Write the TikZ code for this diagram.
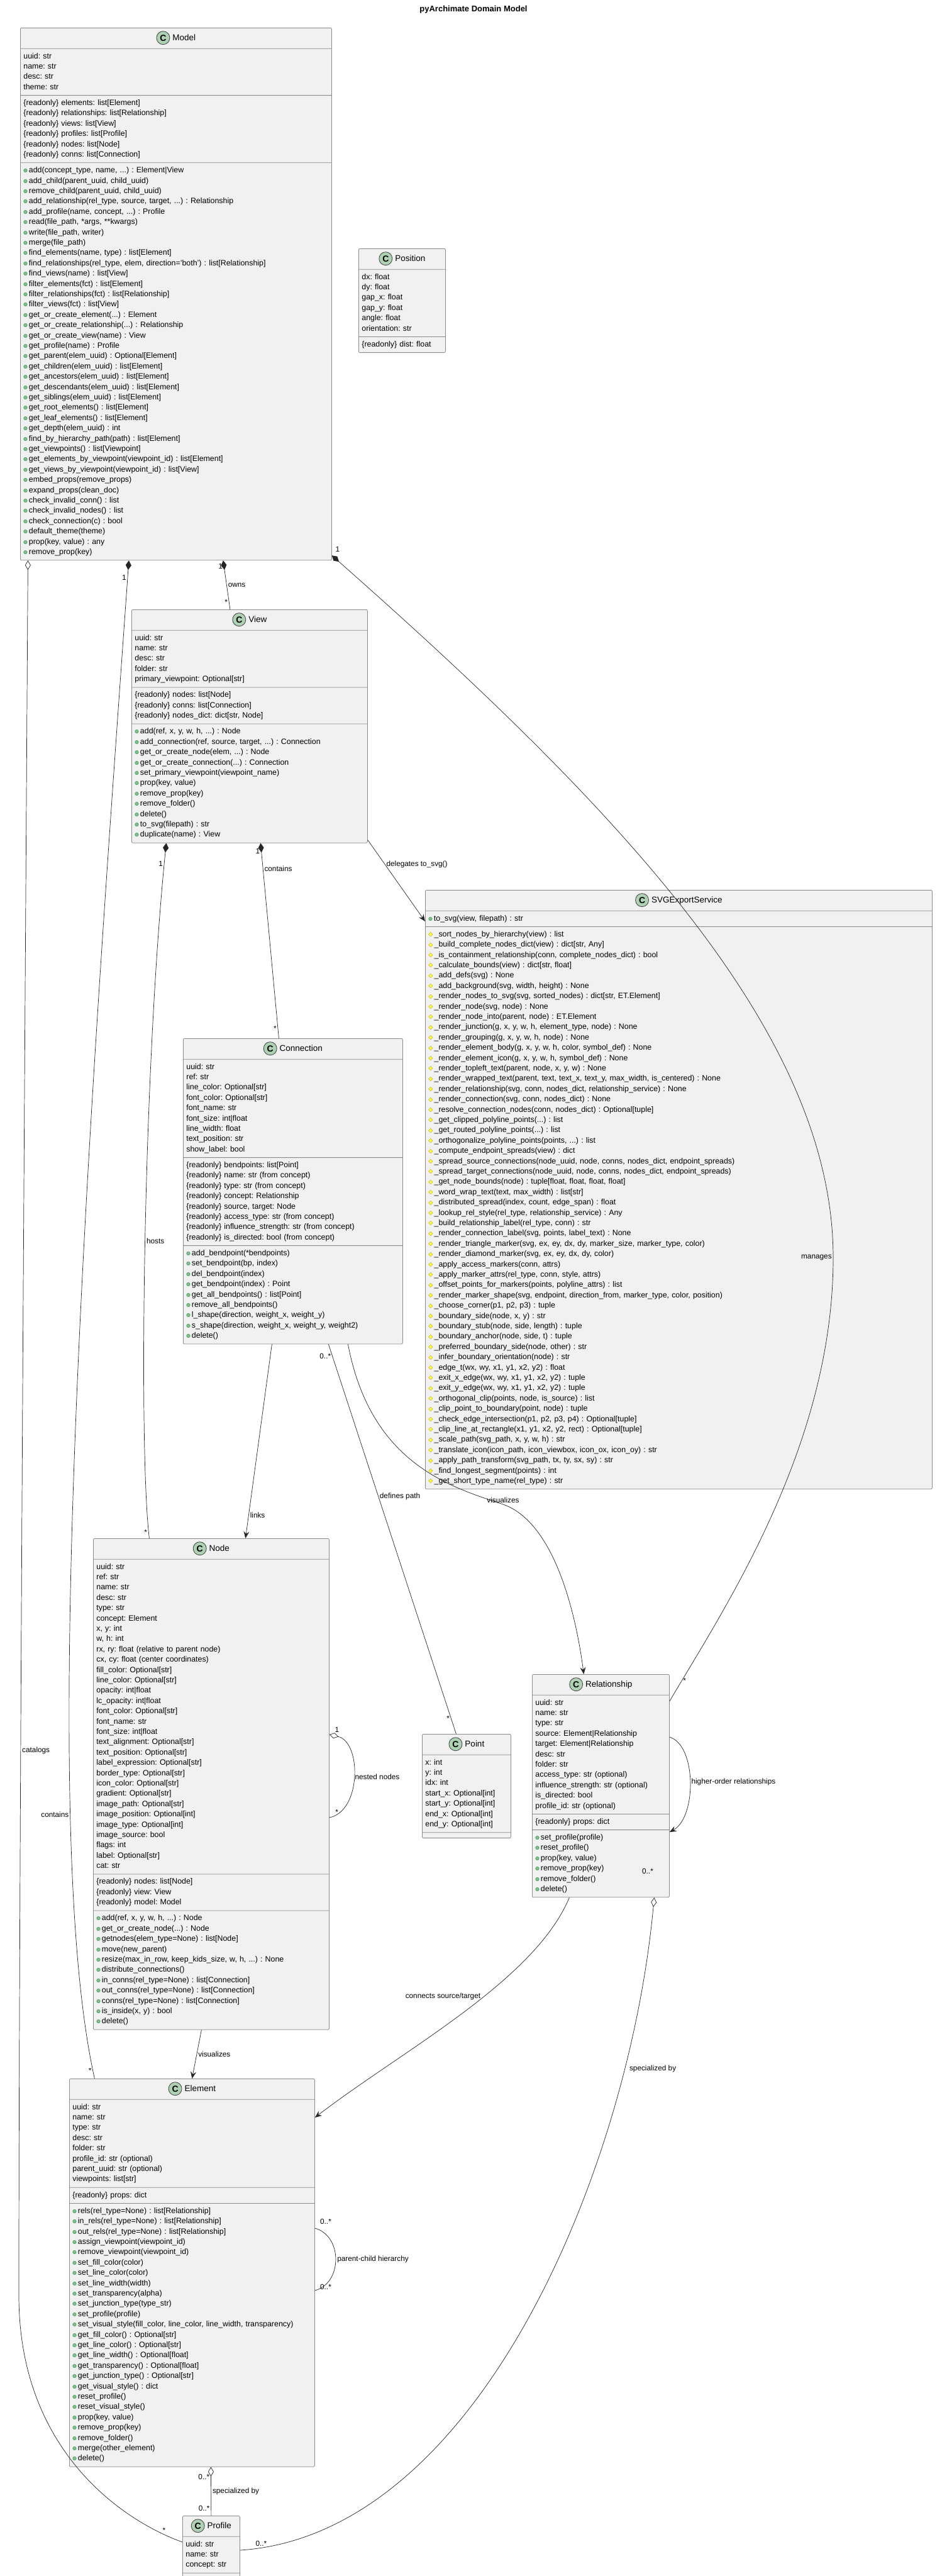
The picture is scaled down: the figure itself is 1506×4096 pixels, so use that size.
\documentclass[tikz,border=0pt]{standalone}
\usepackage{fontspec}
\usepackage{graphicx}
\setmainfont{Liberation Sans}
\newfontfamily\symf{DejaVu Sans}
\usetikzlibrary{shapes.multipart,arrows.meta}
\definecolor{clsbg}{HTML}{F1F1F1}
\definecolor{clsbd}{HTML}{8A8A8A}
\definecolor{cgreen}{HTML}{ADD1B2}
\definecolor{pubf}{HTML}{84BE84}
\definecolor{pubd}{HTML}{038048}
\definecolor{prvf}{HTML}{FFFF44}
\definecolor{prvd}{HTML}{B38D22}
\frenchspacing
\newcommand\clsfont{\fontsize{12.4}{16.4}\selectfont\parindent0pt\frenchspacing}
\providecommand\R{}\renewcommand\R[1]{\strut#1\par}
\newcommand\pubm{\raisebox{0.15ex}{\scalebox{0.6}{\symf\rlap{\color{pubf}●}\color{pubd}○}}\,}
\newcommand\prvm{\raisebox{0.1ex}{\scalebox{0.75}{\symf\rlap{\color{prvf}◆}\color{prvd}◇}}\,}
\renewcommand\P[1]{\R{\pubm #1}}
\providecommand\Q{}\renewcommand\Q[1]{\R{\prvm #1}}
\newcommand\cicon{\tikz[reset cm,baseline=-4.6pt]{\node[circle,anchor=center,align=center,draw=black!75,fill=cgreen,line width=0.8pt,minimum size=21pt,inner sep=0pt,font=\fontsize{14}{14}\selectfont\bfseries] at (0,0) {C};}}
\newcommand\chead[1]{\makebox[\linewidth]{\rule[-8pt]{0pt}{24pt}\cicon\ \fontsize{13.5}{16}\selectfont #1}}
\tikzset{
  cls/.style={rectangle split, rectangle split parts=#1, rectangle split ignore empty parts=false,
    draw=clsbd, fill=clsbg, rounded corners=2pt, inner xsep=5pt, inner ysep=4pt,
    anchor=north west, align=left, font=\clsfont, line width=0.8pt},
  lnk/.style={draw=black!85, line width=0.7pt},
  arr/.style={lnk,-{Stealth[length=11pt,width=9pt,inset=4pt]}},
  fdia/.style={lnk,{Diamond[length=15pt,width=9pt]}-},
  odia/.style={lnk,{Diamond[open,fill=white,length=15pt,width=9pt]}-},
  lab/.style={font=\fontsize{11.8}{14}\selectfont, inner sep=2pt},
}
\begin{document}
\catcode`\_=12
\begin{tikzpicture}[x=1pt,y=-1pt]
\useasboundingbox (0,0) rectangle (1506,4096);
\fill[white] (0,0) rectangle (1506,4096);
\node[font=\fontsize{13}{15}\selectfont\bfseries] (title) at (753,15) {pyArchimate Domain Model};

% Model
\node[cls=4, text width=485pt] (model) at (32,44) {\chead{Model}
\nodepart{two}\R{uuid: str}\R{name: str}\R{desc: str}\R{theme: str}
\nodepart{three}\R{\{readonly\} elements: list[Element]}\R{\{readonly\} relationships: list[Relationship]}\R{\{readonly\} views: list[View]}\R{\{readonly\} profiles: list[Profile]}\R{\{readonly\} nodes: list[Node]}\R{\{readonly\} conns: list[Connection]}
\nodepart{four}\P{add(concept_type, name, ...) : Element|View}\P{add_child(parent_uuid, child_uuid)}\P{remove_child(parent_uuid, child_uuid)}\P{add_relationship(rel_type, source, target, ...) : Relationship}\P{add_profile(name, concept, ...) : Profile}\P{read(file_path, *args, **kwargs)}\P{write(file_path, writer)}\P{merge(file_path)}\P{find_elements(name, type) : list[Element]}\P{find_relationships(rel_type, elem, direction='both') : list[Relationship]}\P{find_views(name) : list[View]}\P{filter_elements(fct) : list[Element]}\P{filter_relationships(fct) : list[Relationship]}\P{filter_views(fct) : list[View]}\P{get_or_create_element(...) : Element}\P{get_or_create_relationship(...) : Relationship}\P{get_or_create_view(name) : View}\P{get_profile(name) : Profile}\P{get_parent(elem_uuid) : Optional[Element]}\P{get_children(elem_uuid) : list[Element]}\P{get_ancestors(elem_uuid) : list[Element]}\P{get_descendants(elem_uuid) : list[Element]}\P{get_siblings(elem_uuid) : list[Element]}\P{get_root_elements() : list[Element]}\P{get_leaf_elements() : list[Element]}\P{get_depth(elem_uuid) : int}\P{find_by_hierarchy_path(path) : list[Element]}\P{get_viewpoints() : list[Viewpoint]}\P{get_elements_by_viewpoint(viewpoint_id) : list[Element]}\P{get_views_by_viewpoint(viewpoint_id) : list[View]}\P{embed_props(remove_props)}\P{expand_props(clean_doc)}\P{check_invalid_conn() : list}\P{check_invalid_nodes() : list}\P{check_connection(c) : bool}\P{default_theme(theme)}\P{prop(key, value) : any}\P{remove_prop(key)}};

% Position
\node[cls=3, text width=128pt] (position) at (570,395) {\chead{Position}
\nodepart{two}\R{dx: float}\R{dy: float}\R{gap_x: float}\R{gap_y: float}\R{angle: float}\R{orientation: str}
\nodepart{three}\R{\{readonly\} dist: float}};

% View
\node[cls=4, text width=365pt] (view) at (209,969) {\chead{View}
\nodepart{two}\R{uuid: str}\R{name: str}\R{desc: str}\R{folder: str}\R{primary_viewpoint: Optional[str]}
\nodepart{three}\R{\{readonly\} nodes: list[Node]}\R{\{readonly\} conns: list[Connection]}\R{\{readonly\} nodes_dict: dict[str, Node]}
\nodepart{four}\P{add(ref, x, y, w, h, ...) : Node}\P{add_connection(ref, source, target, ...) : Connection}\P{get_or_create_node(elem, ...) : Node}\P{get_or_create_connection(...) : Connection}\P{set_primary_viewpoint(viewpoint_name)}\P{prop(key, value)}\P{remove_prop(key)}\P{remove_folder()}\P{delete()}\P{to_svg(filepath) : str}\P{duplicate(name) : View}};

% SVGExportService
\node[cls=3, text width=796pt] (svg) at (676,1415) {\chead{SVGExportService}
\nodepart{two}\P{to_svg(view, filepath) : str}
\nodepart{three}\Q{_sort_nodes_by_hierarchy(view) : list}\Q{_build_complete_nodes_dict(view) : dict[str, Any]}\Q{_is_containment_relationship(conn, complete_nodes_dict) : bool}\Q{_calculate_bounds(view) : dict[str, float]}\Q{_add_defs(svg) : None}\Q{_add_background(svg, width, height) : None}\Q{_render_nodes_to_svg(svg, sorted_nodes) : dict[str, ET.Element]}\Q{_render_node(svg, node) : None}\Q{_render_node_into(parent, node) : ET.Element}\Q{_render_junction(g, x, y, w, h, element_type, node) : None}\Q{_render_grouping(g, x, y, w, h, node) : None}\Q{_render_element_body(g, x, y, w, h, color, symbol_def) : None}\Q{_render_element_icon(g, x, y, w, h, symbol_def) : None}\Q{_render_topleft_text(parent, node, x, y, w) : None}\Q{_render_wrapped_text(parent, text, text_x, text_y, max_width, is_centered) : None}\Q{_render_relationship(svg, conn, nodes_dict, relationship_service) : None}\Q{_render_connection(svg, conn, nodes_dict) : None}\Q{_resolve_connection_nodes(conn, nodes_dict) : Optional[tuple]}\Q{_get_clipped_polyline_points(...) : list}\Q{_get_routed_polyline_points(...) : list}\Q{_orthogonalize_polyline_points(points, ...) : list}\Q{_compute_endpoint_spreads(view) : dict}\Q{_spread_source_connections(node_uuid, node, conns, nodes_dict, endpoint_spreads)}\Q{_spread_target_connections(node_uuid, node, conns, nodes_dict, endpoint_spreads)}\Q{_get_node_bounds(node) : tuple[float, float, float, float]}\Q{_word_wrap_text(text, max_width) : list[str]}\Q{_distributed_spread(index, count, edge_span) : float}\Q{_lookup_rel_style(rel_type, relationship_service) : Any}\Q{_build_relationship_label(rel_type, conn) : str}\Q{_render_connection_label(svg, points, label_text) : None}\Q{_render_triangle_marker(svg, ex, ey, dx, dy, marker_size, marker_type, color)}\Q{_render_diamond_marker(svg, ex, ey, dx, dy, color)}\Q{_apply_access_markers(conn, attrs)}\Q{_apply_marker_attrs(rel_type, conn, style, attrs)}\Q{_offset_points_for_markers(points, polyline_attrs) : list}\Q{_render_marker_shape(svg, endpoint, direction_from, marker_type, color, position)}\Q{_choose_corner(p1, p2, p3) : tuple}\Q{_boundary_side(node, x, y) : str}\Q{_boundary_stub(node, side, length) : tuple}\Q{_boundary_anchor(node, side, t) : tuple}\Q{_preferred_boundary_side(node, other) : str}\Q{_infer_boundary_orientation(node) : str}\Q{_edge_t(wx, wy, x1, y1, x2, y2) : float}\Q{_exit_x_edge(wx, wy, x1, y1, x2, y2) : tuple}\Q{_exit_y_edge(wx, wy, x1, y1, x2, y2) : tuple}\Q{_orthogonal_clip(points, node, is_source) : list}\Q{_clip_point_to_boundary(point, node) : tuple}\Q{_check_edge_intersection(p1, p2, p3, p4) : Optional[tuple]}\Q{_clip_line_at_rectangle(x1, y1, x2, y2, rect) : Optional[tuple]}\Q{_scale_path(svg_path, x, y, w, h) : str}\Q{_translate_icon(icon_path, icon_viewbox, icon_ox, icon_oy) : str}\Q{_apply_path_transform(svg_path, tx, ty, sx, sy) : str}\Q{_find_longest_segment(points) : int}\Q{_get_short_type_name(rel_type) : str}};

% Connection
\node[cls=4, text width=339pt] (connection) at (291,1651) {\chead{Connection}
\nodepart{two}\R{uuid: str}\R{ref: str}\R{line_color: Optional[str]}\R{font_color: Optional[str]}\R{font_name: str}\R{font_size: int|float}\R{line_width: float}\R{text_position: str}\R{show_label: bool}
\nodepart{three}\R{\{readonly\} bendpoints: list[Point]}\R{\{readonly\} name: str (from concept)}\R{\{readonly\} type: str (from concept)}\R{\{readonly\} concept: Relationship}\R{\{readonly\} source, target: Node}\R{\{readonly\} access_type: str (from concept)}\R{\{readonly\} influence_strength: str (from concept)}\R{\{readonly\} is_directed: bool (from concept)}
\nodepart{four}\P{add_bendpoint(*bendpoints)}\P{set_bendpoint(bp, index)}\P{del_bendpoint(index)}\P{get_bendpoint(index) : Point}\P{get_all_bendpoints() : list[Point]}\P{remove_all_bendpoints()}\P{l_shape(direction, weight_x, weight_y)}\P{s_shape(direction, weight_x, weight_y, weight2)}\P{delete()}};

% Node
\node[cls=4, text width=365pt] (node) at (148,2446) {\chead{Node}
\nodepart{two}\R{uuid: str}\R{ref: str}\R{name: str}\R{desc: str}\R{type: str}\R{concept: Element}\R{x, y: int}\R{w, h: int}\R{rx, ry: float (relative to parent node)}\R{cx, cy: float (center coordinates)}\R{fill_color: Optional[str]}\R{line_color: Optional[str]}\R{opacity: int|float}\R{lc_opacity: int|float}\R{font_color: Optional[str]}\R{font_name: str}\R{font_size: int|float}\R{text_alignment: Optional[str]}\R{text_position: Optional[str]}\R{label_expression: Optional[str]}\R{border_type: Optional[str]}\R{icon_color: Optional[str]}\R{gradient: Optional[str]}\R{image_path: Optional[str]}\R{image_position: Optional[int]}\R{image_type: Optional[int]}\R{image_source: bool}\R{flags: int}\R{label: Optional[str]}\R{cat: str}
\nodepart{three}\R{\{readonly\} nodes: list[Node]}\R{\{readonly\} view: View}\R{\{readonly\} model: Model}
\nodepart{four}\P{add(ref, x, y, w, h, ...) : Node}\P{get_or_create_node(...) : Node}\P{getnodes(elem_type=None) : list[Node]}\P{move(new_parent)}\P{resize(max_in_row, keep_kids_size, w, h, ...) : None}\P{distribute_connections()}\P{in_conns(rel_type=None) : list[Connection]}\P{out_conns(rel_type=None) : list[Connection]}\P{conns(rel_type=None) : list[Connection]}\P{is_inside(x, y) : bool}\P{delete()}};

% Point
\node[cls=3, text width=131pt] (point) at (671,2757) {\chead{Point}
\nodepart{two}\R{x: int}\R{y: int}\R{idx: int}\R{start_x: Optional[int]}\R{start_y: Optional[int]}\R{end_x: Optional[int]}\R{end_y: Optional[int]}
\nodepart{three}\mbox{}};

% Relationship
\node[cls=4, text width=208pt] (relationship) at (846,2662) {\chead{Relationship}
\nodepart{two}\R{uuid: str}\R{name: str}\R{type: str}\R{source: Element|Relationship}\R{target: Element|Relationship}\R{desc: str}\R{folder: str}\R{access_type: str (optional)}\R{influence_strength: str (optional)}\R{is_directed: bool}\R{profile_id: str (optional)}
\nodepart{three}\R{\{readonly\} props: dict}
\nodepart{four}\P{set_profile(profile)}\P{reset_profile()}\P{prop(key, value)}\P{remove_prop(key)}\P{remove_folder()}\P{delete()}};

% Element
\node[cls=4, text width=380pt] (element) at (110,3305) {\chead{Element}
\nodepart{two}\R{uuid: str}\R{name: str}\R{type: str}\R{desc: str}\R{folder: str}\R{profile_id: str (optional)}\R{parent_uuid: str (optional)}\R{viewpoints: list[str]}
\nodepart{three}\R{\{readonly\} props: dict}
\nodepart{four}\P{rels(rel_type=None) : list[Relationship]}\P{in_rels(rel_type=None) : list[Relationship]}\P{out_rels(rel_type=None) : list[Relationship]}\P{assign_viewpoint(viewpoint_id)}\P{remove_viewpoint(viewpoint_id)}\P{set_fill_color(color)}\P{set_line_color(color)}\P{set_line_width(width)}\P{set_transparency(alpha)}\P{set_junction_type(type_str)}\P{set_profile(profile)}\P{set_visual_style(fill_color, line_color, line_width, transparency)}\P{get_fill_color() : Optional[str]}\P{get_line_color() : Optional[str]}\P{get_line_width() : Optional[float]}\P{get_transparency() : Optional[float]}\P{get_junction_type() : Optional[str]}\P{get_visual_style() : dict}\P{reset_profile()}\P{reset_visual_style()}\P{prop(key, value)}\P{remove_prop(key)}\P{remove_folder()}\P{merge(other_element)}\P{delete()}};

% Profile
\node[cls=3, text width=81pt] (profile) at (290,4000) {\chead{Profile}
\nodepart{two}\R{uuid: str}\R{name: str}\R{concept: str}
\nodepart{three}\R{\{readonly\} props: dict}};

% ---- connectors
\path[fdia] ([xshift=75pt]model.south) -- node[lab,pos=.5,right]{owns} node[lab,pos=.12,left]{1} node[lab,pos=.85,left]{*} ([xshift=-31pt]view.north);
\path[fdia] ([yshift=8pt]model.south east) .. controls (1000,1300) and (1325,1650) .. (1325,2000) node[lab,left]{manages} .. controls (1325,2300) and (1150,2560) .. ([yshift=-43pt]relationship.north east) node[lab,pos=.93,right]{*};
\node[lab] (m1) at (537,873) {1};
\path[fdia] ([xshift=-75pt]model.south) .. controls (140,1800) and (60,2900) .. node[lab,pos=.75,left]{contains} node[lab,pos=.01,left]{1} node[lab,pos=.99,left]{*} ([xshift=-155pt]element.north);
\path[odia] ([xshift=-235.5pt]model.south) .. controls (40,1600) and (30,3000) .. (30,3650) node[lab,pos=.66,right]{catalogs} .. controls (30,3900) and (200,4010) .. ([yshift=-42pt]profile.north west) node[lab,pos=.9,above]{*};
\path[fdia] ([xshift=-132.5pt]view.south) .. controls (228,1700) and (220,2300) .. node[lab,pos=.5,right]{hosts} node[lab,pos=.03,left]{1} node[lab,pos=.98,left]{*} ([xshift=-98.5pt]node.north);
\path[fdia] ([xshift=17.5pt]view.south) -- node[lab,pos=.13,right]{contains} node[lab,pos=.04,left]{1} node[lab,pos=.95,left]{*} ([xshift=-22.5pt]connection.north);
\path[arr] ([yshift=5pt]view.south east) -- node[lab,pos=.3,right]{delegates to_svg()} ([yshift=-50pt]svg.north west);
\path[arr] ([xshift=-33.5pt]connection.south) -- node[lab,pos=.88,right]{links} ([xshift=54.5pt]node.north);
\path[lnk] ([xshift=56.5pt]connection.south) -- node[lab,pos=.39,right]{defines path} node[lab,pos=.03,left]{0..*} node[lab,pos=.96,left]{*} ([xshift=-16.5pt]point.north);
\path[arr] ([xshift=87.5pt]connection.south) .. controls (590,2330) and (720,2365) .. (800,2392) node[lab,above]{visualizes} .. controls (880,2420) and (915,2560) .. ([xshift=-27pt]relationship.north);
\path[odia] ([yshift=-312pt]node.north east) .. controls (575,2770) and (575,2880) .. node[lab,right]{nested nodes} ([yshift=-444pt]node.north east) node[lab,pos=.95,above right]{*};
\node[lab] (n1) at (536,2750) {1};
\path[arr] ([xshift=-15.5pt]node.south) -- node[lab,right]{visualizes} (element.north);
\path[arr] ([xshift=-50pt]relationship.south) .. controls (850,3150) and (640,3260) .. node[lab,pos=.42,left,xshift=-4pt]{connects source/target} ([yshift=-62pt]element.north east);
\path[arr] ([yshift=-100pt]relationship.north east) .. controls (1108,2775) and (1108,2890) .. node[lab,right]{higher-order relationships} ([yshift=-251pt]relationship.north east);
\path[lnk] ([yshift=-238pt]element.north east) .. controls (545,3555) and (545,3630) .. node[lab,right]{parent-child hierarchy} ([yshift=-337pt]element.north east);
\node[lab] (e1) at (518,3532) {0..*};
\node[lab] (e2) at (518,3636) {0..*};
\path[odia] ([xshift=30pt]element.south) -- node[lab,right]{specialized by} node[lab,pos=.2,left]{0..*} node[lab,pos=.85,left]{0..*} (profile.north);
\path[odia] ([xshift=85pt]relationship.south) .. controls (1000,3450) and (760,4030) .. node[lab,pos=.2,right,xshift=6pt]{specialized by} ([yshift=-55pt]profile.north east) node[lab,pos=.97,above]{0..*};
\node[lab] (r1) at (1030,2975) {0..*};
\end{tikzpicture}
\end{document}
